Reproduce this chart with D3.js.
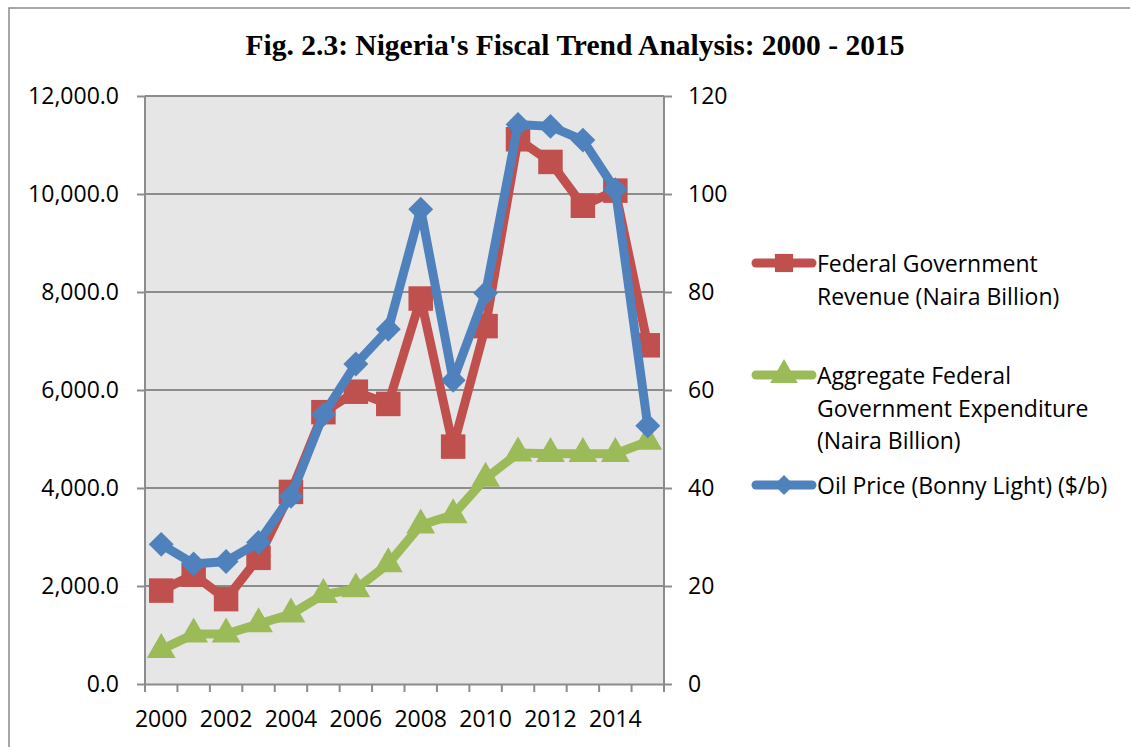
<!DOCTYPE html>
<html>
<head>
<meta charset="utf-8">
<script src="https://cdn.jsdelivr.net/npm/d3@7"></script>
<style>
  body { margin: 0; background: #fff; }
  text { font-family: "Open Sans", "Noto Sans", sans-serif; fill: #000; }
</style>
</head>
<body>
<svg id="chart" width="1130" height="747"></svg>
<script>
let width = 1130;
let height = 747;

// data
let years = d3.range(2000, 2016);
let revenue = [1906.2, 2231.6, 1731.8, 2575.1, 3920.5, 5547.5, 5965.1, 5715.6,
               7866.6, 4844.6, 7303.7, 11116.9, 10654.7, 9759.8, 10068.8, 6912.5];
let expenditure = [701.1, 1018.0, 1018.2, 1226.0, 1426.2, 1822.1, 1938.0, 2450.9,
                   3240.8, 3453.0, 4194.6, 4712.1, 4700.0, 4700.0, 4700.0, 4950.0];
let oilPrice = [28.5, 24.5, 25.0, 28.9, 38.3, 55.0, 65.3, 72.4,
                96.9, 62.0, 79.8, 114.2, 113.8, 111.0, 100.9, 52.7];
let leftTicks = d3.range(0, 12001, 2000);
let rightTicks = d3.range(0, 121, 20);
let xLabels = d3.range(2000, 2015, 2);

let title = "Fig. 2.3: Nigeria's Fiscal Trend Analysis: 2000 - 2015";
let seriesNames = [
  ["Federal Government", "Revenue (Naira Billion)"],
  ["Aggregate Federal", "Government Expenditure", "(Naira Billion)"],
  ["Oil Price (Bonny Light) ($/b)"]
];
let colors = ["#C0504D", "#9BBB59", "#4F81BD"];

let plot = {left: 145, right: 664, top: 96, bottom: 684};

let svg = d3.select("#chart");

// outer chart frame (only top and left edges visible)
svg.append("path")
  .attr("d", `M9,747 V8 H1130`)
  .attr("fill", "none")
  .attr("stroke", "#8a8a8a")
  .attr("stroke-width", 1.5);

svg.append("text")
  .attr("x", 575)
  .attr("y", 55)
  .attr("text-anchor", "middle")
  .style("font-family", "'Liberation Serif', 'Times New Roman', serif")
  .style("font-weight", "bold")
  .style("font-size", "29.5px")
  .text(title);

let x = d3.scaleBand().domain(years).range([plot.left, plot.right]).padding(0);
let cx = d => x(d) + x.bandwidth() / 2;
let yL = d3.scaleLinear().domain([0, 12000]).range([plot.bottom, plot.top]);
let yR = d3.scaleLinear().domain([0, 120]).range([plot.bottom, plot.top]);

svg.append("rect")
  .attr("x", plot.left).attr("y", plot.top)
  .attr("width", plot.right - plot.left)
  .attr("height", plot.bottom - plot.top)
  .attr("fill", "#e6e6e6");

// gridlines
svg.append("g").selectAll("line")
  .data(leftTicks.slice(1))
  .enter().append("line")
  .attr("x1", plot.left).attr("x2", plot.right)
  .attr("y1", d => yL(d)).attr("y2", d => yL(d))
  .attr("stroke", "#8c8c8c").attr("stroke-width", 2);

let fmtL = d3.format(",.1f");

let leftAxis = svg.append("g")
  .attr("transform", `translate(${plot.left},0)`)
  .call(d3.axisLeft(yL).tickValues(leftTicks).tickFormat(fmtL).tickSize(8).tickPadding(18));
let rightAxis = svg.append("g")
  .attr("transform", `translate(${plot.right},0)`)
  .call(d3.axisRight(yR).tickValues(rightTicks).tickSize(8).tickPadding(16));
let bottomAxis = svg.append("g")
  .attr("transform", `translate(0,${plot.bottom})`)
  .call(d3.axisBottom(x).tickValues([]).tickSizeOuter(0));

// x ticks on category boundaries
bottomAxis.selectAll(".bound")
  .data(years.concat([2016]))
  .enter().append("line")
  .attr("class", "bound")
  .attr("x1", d => d === 2016 ? plot.right : x(d))
  .attr("x2", d => d === 2016 ? plot.right : x(d))
  .attr("y1", 0).attr("y2", 8)
  .attr("stroke", "#8c8c8c").attr("stroke-width", 2);

bottomAxis.selectAll(".lbl")
  .data(xLabels)
  .enter().append("text")
  .attr("class", "lbl")
  .attr("x", d => cx(d))
  .attr("y", 43)
  .attr("text-anchor", "middle")
  .style("font-size", "23px")
  .text(d => d);

[leftAxis, rightAxis, bottomAxis].forEach(g => {
  g.select(".domain").attr("stroke", "#8c8c8c").attr("stroke-width", 2);
  g.selectAll(".tick line").attr("stroke", "#8c8c8c").attr("stroke-width", 2);
  g.selectAll(".tick text").style("font-size", "23px").attr("fill", "#000")
    .style("font-family", "'Open Sans', sans-serif");
});
leftAxis.select(".domain").attr("d", `M0,${plot.top}V${plot.bottom}`);
rightAxis.select(".domain").attr("d", `M0,${plot.top}V${plot.bottom}`);

// marker shapes
let square = d3.symbol().type(d3.symbolSquare).size(600);
let diamondShape = d3.symbol().type(d3.symbolSquare).size(310);
let triangle = d3.symbol().type(d3.symbolTriangle).size(360);

let series = [
  {vals: revenue, y: yL, sym: square, rot: 0, color: colors[0]},
  {vals: expenditure, y: yL, sym: triangle, rot: 0, color: colors[1]},
  {vals: oilPrice, y: yR, sym: diamondShape, rot: 45, color: colors[2]}
];

series.forEach(s => {
  let g = svg.append("g");
  let line = d3.line().x((d, i) => cx(years[i])).y(d => s.y(d));
  g.append("path")
    .attr("d", line(s.vals))
    .attr("fill", "none")
    .attr("stroke", s.color)
    .attr("stroke-width", 9)
    .attr("stroke-linejoin", "round");
  g.selectAll("path.m")
    .data(s.vals)
    .enter().append("path")
    .attr("class", "m")
    .attr("d", s.sym)
    .attr("transform", (d, i) => `translate(${cx(years[i])},${s.y(d)}) rotate(${s.rot})`)
    .attr("fill", s.color);
});

// legend
let legendY = [263, 375, 485];
seriesNames.forEach((lines, i) => {
  let g = svg.append("g").attr("transform", `translate(0,${legendY[i]})`);
  g.append("line")
    .attr("x1", 756).attr("x2", 812)
    .attr("y1", 0).attr("y2", 0)
    .attr("stroke", colors[i])
    .attr("stroke-width", 9)
    .attr("stroke-linecap", "round");
  g.append("path")
    .attr("d", series[i].sym.size(i === 2 ? 200 : 330)())
    .attr("transform", `translate(784,0) rotate(${series[i].rot})`)
    .attr("fill", colors[i]);
  lines.forEach((t, j) => {
    g.append("text")
      .attr("x", 817)
      .attr("y", 9 + j * 32.5)
      .style("font-size", "23px")
      .text(t);
  });
});
</script>
</body>
</html>
